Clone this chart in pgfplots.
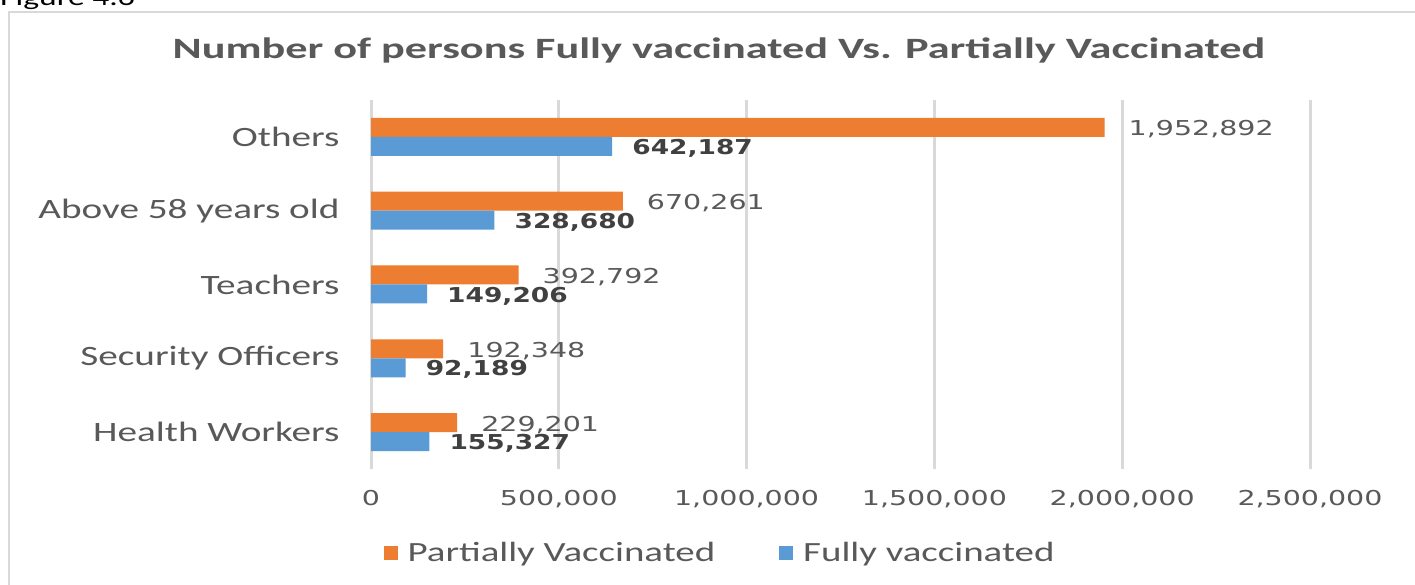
\documentclass[border=0pt]{standalone}
\usepackage{fontspec}
\usepackage{pgfplots}
\pgfplotsset{compat=1.18}
\setmainfont{Carlito}
\newfontfamily\txtfont{Carlito}[FakeStretch=1.4]
\newfontfamily\titlefont{Carlito}[FakeStretch=1.5]
\newfontfamily\numfont{DejaVu Sans}[FakeStretch=1.39]
\newfontfamily\boldnumfont{DejaVu Sans Bold}[FakeStretch=1.29]
\definecolor{orangeC}{HTML}{ED7D31}
\definecolor{blueC}{HTML}{5B9BD5}
\definecolor{textgray}{HTML}{595959}
\definecolor{gridgray}{HTML}{D9D9D9}
\definecolor{boldgray}{HTML}{404040}
\begin{document}
\begin{tikzpicture}
\useasboundingbox (0pt,0pt) rectangle (1415pt,585pt);
\clip (0pt,0pt) rectangle (1415pt,585pt);
\fill[white] (0pt,0pt) rectangle (1415pt,585pt);
\draw[gridgray, line width=2pt] (9pt,-10pt) -- (9pt,573pt) -- (1430pt,573pt);
\node[anchor=base west, inner sep=0pt, font=\txtfont\fontsize{24}{28}\selectfont] at (0pt,579pt) {Figure 4.6};
\node[anchor=base, inner sep=0pt, font=\titlefont\bfseries\fontsize{29.5}{33}\selectfont, text=textgray] at (719pt,526pt) {Number of persons Fully vaccinated Vs. Partially Vaccinated};
\begin{axis}[
 at={(371pt,116pt)}, anchor=south west,
 scale only axis, width=939pt, height=369pt,
 xmin=0, xmax=2500000, ymin=-0.5, ymax=4.5,
 xbar, bar width=19pt,
 axis line style={draw=none},
 major tick length=0pt,
 scaled x ticks=false,
 xmajorgrids, grid style={line width=3pt, gridgray},
 xtick={0,500000,1000000,1500000,2000000,2500000},
 xticklabels={{0},{500,000},{1,000,000},{1,500,000},{2,000,000},{2,500,000}},
 xticklabel style={font=\numfont\fontsize{20.5}{24}\selectfont, text=textgray, yshift=-18pt},
 ytick={0,1,2,3,4},
 yticklabels={Health Workers,Security Officers,Teachers,Above 58 years old,Others},
 yticklabel style={font=\txtfont\fontsize{28}{32}\selectfont, text=textgray, xshift=-28pt},
 nodes near coords, point meta=explicit symbolic,
 legend style={at={(0.3717,-0.2276)}, anchor=center, draw=none, fill=none, legend columns=2, font=\txtfont\fontsize{27.8}{32}\selectfont, text=textgray, /tikz/every even column/.append style={column sep=62pt}, /tikz/every odd column/.append style={column sep=8pt}},
 legend image code/.code={\fill[#1] (0pt,-7pt) rectangle (14pt,7pt);},
]
\addplot[fill=orangeC, draw=none, bar shift=9.5pt, every node near coord/.append style={font=\numfont\fontsize{20.5}{24}\selectfont, text=textgray, anchor=west, inner sep=0pt, xshift=24pt, yshift=-2pt}] table[x index=0, y index=1, meta index=2, header=false] {
229201 0 229,201
192348 1 192,348
392792 2 392,792
670261 3 670,261
1952892 4 1,952,892
};
\addlegendentry{Partially Vaccinated}
\addplot[fill=blueC, draw=none, bar shift=-9.5pt, every node near coord/.append style={font=\boldnumfont\fontsize{20.5}{24}\selectfont, text=boldgray, anchor=west, inner sep=0pt, xshift=20pt, yshift=-2pt}] table[x index=0, y index=1, meta index=2, header=false] {
155327 0 155,327
92189 1 92,189
149206 2 149,206
328680 3 328,680
642187 4 642,187
};
\addlegendentry{Fully vaccinated}
\end{axis}
\end{tikzpicture}
\end{document}
